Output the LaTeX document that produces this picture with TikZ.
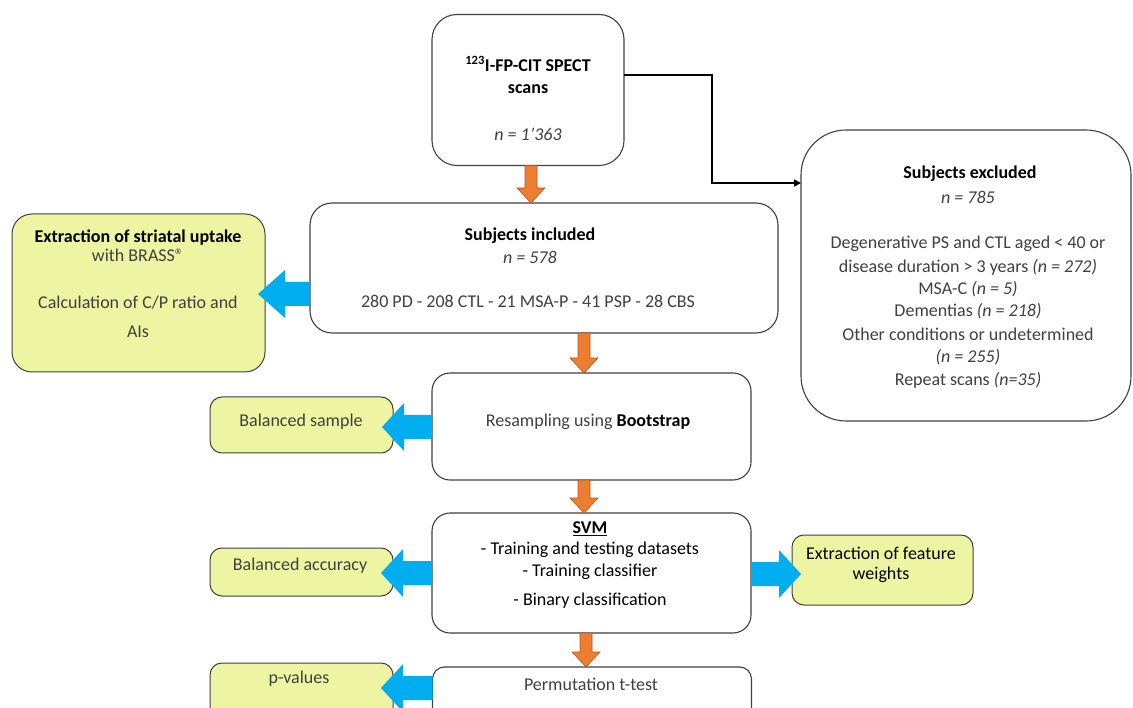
\documentclass[tikz,border=0pt]{standalone}
\usepackage{fontspec}
\setmainfont{Carlito}
\usetikzlibrary{calc,arrows.meta}
\definecolor{boxline}{HTML}{404040}
\definecolor{txtc}{HTML}{404040}
\definecolor{greenfill}{HTML}{EEF5A2}
\definecolor{bluearr}{HTML}{00AEEF}
\definecolor{orangearr}{HTML}{ED7D31}
\definecolor{orangeline}{HTML}{B4561F}
\tikzset{
  wbox/.style={draw=boxline, line width=1.1pt, fill=white, rounded corners=#1, rectangle, inner sep=0pt, outer sep=0pt},
  gbox/.style={draw=boxline, line width=1pt, fill=greenfill, rounded corners=#1, rectangle, inner sep=0pt, outer sep=0pt},
  lbl/.style={font=\fontsize{18}{21}\selectfont, text=txtc, inner sep=0pt, anchor=center},
  blbl/.style={font=\fontsize{18}{21}\selectfont\bfseries, text=black, inner sep=0pt, anchor=center},
  ilbl/.style={font=\fontsize{18}{21}\selectfont\itshape, text=txtc, inner sep=0pt, anchor=center},
  conn/.style={draw=black, line width=1.6pt, -{Triangle[length=7pt,width=7pt]}},
}
\newcommand\blockarrow[3]{%
  \fill[bluearr] ($(#1)+(0,-12)$) -- ($(#2)+(#3,-12)$) -- ($(#2)+(#3,-24)$) -- (#2)
    -- ($(#2)+(#3,24)$) -- ($(#2)+(#3,12)$) -- ($(#1)+(0,12)$) -- cycle;}
\newcommand\orarrow[2]{%
  \filldraw[fill=orangearr, draw=orangeline, line width=0.6pt] ($(#1)+(-6,0)$) -- ($(#2)+(-6,-15)$) -- ($(#2)+(-14,-15)$) -- (#2)
    -- ($(#2)+(14,-15)$) -- ($(#2)+(6,-15)$) -- ($(#1)+(6,0)$) -- cycle;}
\begin{document}
\begin{tikzpicture}[x=1pt, y=-1pt]
\path[use as bounding box, clip] (0,0) rectangle (1133,708);
\fill[white] (0,0) rectangle (1133,708);

% boxes
\node[wbox=25, minimum width=192, minimum height=151] (scans) at (528,90) {};
\node[wbox=22, minimum width=468, minimum height=130] (incl) at (544,268) {};
\node[gbox=20, minimum width=253, minimum height=158] (extr) at (138.5,293) {};
\node[wbox=45, minimum width=330, minimum height=291] (excl) at (966,275.5) {};
\node[wbox=18, minimum width=319, minimum height=107] (resamp) at (591.5,426.5) {};
\node[gbox=12, minimum width=183, minimum height=56] (bal) at (301.5,425) {};
\node[wbox=18, minimum width=319, minimum height=120] (svm) at (591.5,573) {};
\node[gbox=12, minimum width=183, minimum height=48] (acc) at (301.5,572) {};
\node[gbox=12, minimum width=181, minimum height=70] (feat) at (882.5,570) {};
\node[wbox=12, minimum width=319, minimum height=70] (perm) at (592,702) {};
\node[gbox=12, minimum width=183, minimum height=80] (pval) at (301.5,703) {};

% texts
\node[blbl] (t1) at (528,64) {\textsuperscript{123}I-FP-CIT SPECT};
\node[blbl] (t2) at (528,89) {scans};
\node[ilbl] (t3) at (528,134) {n = 1’363};

\node[blbl] (t4) at (530,236) {Subjects included};
\node[ilbl] (t5) at (530,257) {n = 578};
\node[lbl] (t6) at (528,301) {280 PD - 208 CTL - 21 MSA-P - 41 PSP - 28 CBS};

\node[blbl] (t7) at (138,238) {Extraction of striatal uptake};
\node[lbl] (t8) at (138,255) {with BRASS®};
\node[lbl] (t9) at (138,303) {Calculation of C/P ratio and};
\node[lbl] (t10) at (138,332) {AIs};

\node[blbl] (t11) at (970,174) {Subjects excluded};
\node[ilbl] (t12) at (968,197) {n = 785};
\node[lbl] (t13) at (968,244) {Degenerative PS and CTL aged < 40 or};
\node[lbl] (t14) at (968,267) {disease duration > 3 years \textit{(n = 272)}};
\node[lbl] (t15) at (968,289) {MSA-C \textit{(n = 5)}};
\node[lbl] (t16) at (968,311) {Dementias \textit{(n = 218)}};
\node[lbl] (t17) at (968,334) {Other conditions or undetermined};
\node[ilbl] (t18) at (968,357) {(n = 255)};
\node[lbl] (t19) at (968,380) {Repeat scans \textit{(n=35)}};

\node[lbl] (t20) at (588,422) {Resampling using \textcolor{black}{\bfseries Bootstrap}};
\node[lbl] (t21) at (301,422) {Balanced sample};

\node[blbl] (t22) at (590,529) {\underline{SVM}};
\node[lbl, text=black] (t23) at (590,550) {- Training and testing datasets};
\node[lbl, text=black] (t24) at (590,572) {- Training classifier};
\node[lbl, text=black] (t25) at (590,601) {- Binary classification};
\node[lbl] (t26) at (300,566) {Balanced accuracy};
\node[lbl, text=black] (t27) at (881,553) {Extraction of feature};
\node[lbl, text=black] (t28) at (881,575) {weights};

\node[lbl] (t29) at (591,684) {Permutation t-test};
\node[lbl] (t30) at (299,679) {p-values};

% black connector
\coordinate (c1) at (712,75);
\draw[conn] (scans.east |- c1) -- (c1) |- (excl.west |- 0,183);

% orange arrows
\orarrow{scans.south -| 531,0}{incl.north -| 531,0}
\orarrow{incl.south -| 584,0}{resamp.north -| 584,0}
\orarrow{resamp.south -| 584,0}{svm.north -| 584,0}
\orarrow{svm.south -| 586,0}{perm.north -| 586,0}

% blue arrows
\coordinate (b1s) at (incl.west |- 0,294);
\coordinate (b1t) at ($(extr.east |- 0,294)+(-7,0)$);
\blockarrow{b1s}{b1t}{27}
\coordinate (b2s) at (resamp.west |- 0,427);
\coordinate (b2t) at ($(bal.east |- 0,427)+(-11,0)$);
\blockarrow{b2s}{b2t}{22}
\coordinate (b3s) at (svm.west |- 0,573);
\coordinate (b3t) at ($(acc.east |- 0,573)+(-12,0)$);
\blockarrow{b3s}{b3t}{22}
\coordinate (b4s) at (svm.east |- 0,574);
\coordinate (b4t) at ($(feat.west |- 0,574)+(9,0)$);
\blockarrow{b4s}{b4t}{-22}
\coordinate (b5s) at (perm.west |- 0,688);
\coordinate (b5t) at ($(pval.east |- 0,688)+(-12,0)$);
\blockarrow{b5s}{b5t}{22}
\end{tikzpicture}
\end{document}
